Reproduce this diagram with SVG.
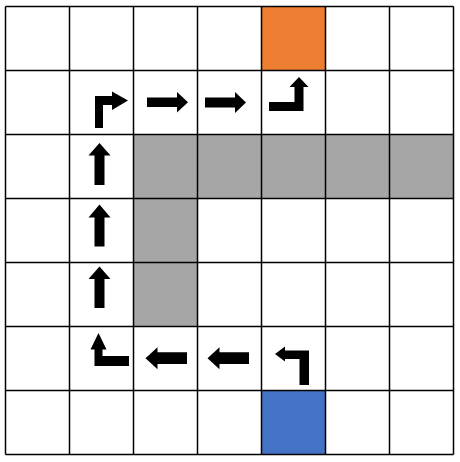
<svg xmlns="http://www.w3.org/2000/svg" width="460" height="462" viewBox="0 0 460 462">
<style>
.wall{fill:#A6A6A6}
.grid{stroke:#000;stroke-width:1.5;fill:none}
.arrow{fill:#000}
</style>
<rect x="0" y="0" width="460" height="462" fill="#fff"/>
<g id="walls">
<rect class="wall" x="133.5" y="134.5" width="320" height="64"/>
<rect class="wall" x="133.5" y="198.5" width="64" height="128"/>
</g>
<g id="goal"><rect x="261.5" y="6.5" width="64" height="64" fill="#ED7D31"/></g>
<g id="start"><rect x="261.5" y="390.5" width="64" height="64" fill="#4472C4"/></g>
<g id="grid" class="grid">
<path d="M5.5,6.5V454.5M69.5,6.5V454.5M133.5,6.5V454.5M197.5,6.5V454.5M261.5,6.5V454.5M325.5,6.5V454.5M389.5,6.5V454.5M453.5,6.5V454.5"/>
<path d="M5.5,6.5H453.5M5.5,70.5H453.5M5.5,134.5H453.5M5.5,198.5H453.5M5.5,262.5H453.5M5.5,326.5H453.5M5.5,390.5H453.5M5.5,454.5H453.5"/>
</g>
<g id="connectors" class="arrow">
<path d="M275,354 L285,346.5 V350.5 H309 V385 H299.5 V359 H285 V361.5 Z"/>
<path d="M207.5,358.3 L219.5,347.3 V352.3 H249 V364 H219.5 V369.3 Z"/>
<path d="M145.5,358.3 L157.5,347.3 V352.3 H187 V364 H157.5 V369.3 Z"/>
<path d="M94.5,366 V349.5 H90.5 L98.5,333 L106.5,349.5 H102.5 V356 H129 V366 Z"/>
<path d="M94.5,308 V279 H88.5 L99.5,266.5 L110.5,279 H104.5 V308 Z"/>
<path d="M94.5,246.5 V217.5 H88.5 L99.5,204.5 L110.5,217.5 H104.5 V246.5 Z"/>
<path d="M94.5,185 V155.5 H88.5 L99.5,143 L110.5,155.5 H104.5 V185 Z"/>
<path d="M95,128 V96 H112 V91.5 L128,100.5 L112,110 V105 H103 V128 Z"/>
<path d="M147,97.5 H177 V92 L188,102.3 L177,112.5 V107 H147 Z"/>
<path d="M205,97.5 H235 V92 L246,102.5 L235,113 V107.5 H205 Z"/>
<path d="M269,102 H294.5 V87 H289.5 L299,77 L308.5,87 H303.5 V111 H269 Z"/>
</g>
</svg>
